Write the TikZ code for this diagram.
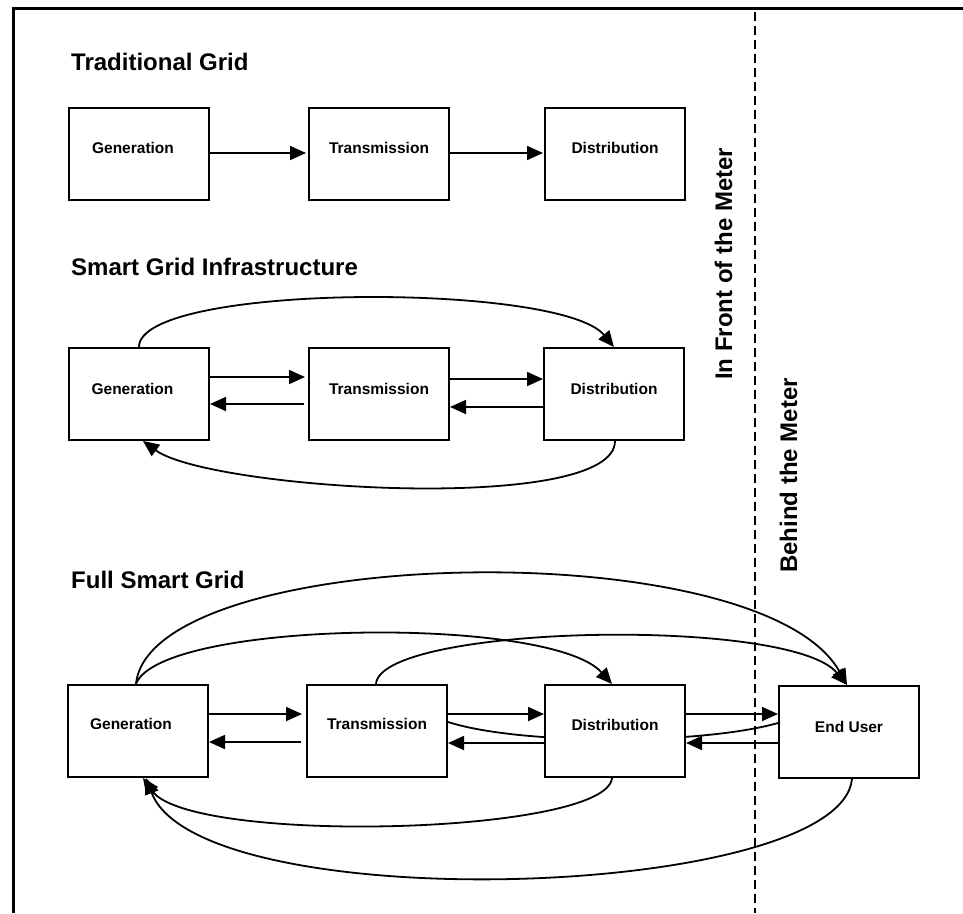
\documentclass[tikz,border=0pt]{standalone}
\usepackage{fontspec}
\setmainfont{Liberation Sans}
\usetikzlibrary{arrows.meta,backgrounds}

\begin{document}
\begin{tikzpicture}[x=1pt,y=-1pt,
  box/.style={draw, fill=white, line width=2pt, minimum width=140pt, minimum height=92pt, inner sep=0pt},
  boxtext/.style={font=\fontsize{15.5}{18}\selectfont\bfseries, inner sep=0pt},
  heading/.style={font=\fontsize{24}{28}\selectfont\bfseries, inner sep=0pt, anchor=base west},
  side/.style={heading, rotate=90},
  link/.style={line width=1.8pt},
  flow/.style={link, -{Triangle[length=16pt,width=14pt]}},
]
\useasboundingbox (0,0) rectangle (963,913);

% page frame and meter boundary
\draw[line width=2.7pt] (13.3,913) -- (13.3,8.7) -- (963,8.7);
\draw[line width=2pt, dash pattern=on 9pt off 5pt] (755,12) -- (755,913);

% headings
\node[heading] (h1) at (71,70) {Traditional Grid};
\node[heading] (h2) at (71,275.5) {Smart Grid Infrastructure};
\node[heading] (h3) at (71,588) {Full Smart Grid};
\node[side] (front) at (732,380) {In Front of the Meter};
\node[side] (behind) at (797,573) {Behind the Meter};

% traditional grid
\node[box, label={[boxtext, xshift=-6pt, yshift=6pt]center:Generation}] (g1) at (139,154) {};
\node[box, label={[boxtext, yshift=6pt]center:Transmission}] (t1) at (379,154) {};
\node[box, label={[boxtext, yshift=6pt]center:Distribution}] (d1) at (615,154) {};
\draw[flow, shorten >=2pt] ([yshift=1pt]g1.east) -- ([yshift=1pt]t1.west);
\draw[flow, shorten >=1pt] ([yshift=1pt]t1.east) -- ([yshift=1pt]d1.west);

% smart grid infrastructure
\node[box, label={[boxtext, xshift=-6.5pt, yshift=5.5pt]center:Generation}] (g2) at (139,394) {};
\node[box, label={[boxtext, yshift=5.5pt]center:Transmission}] (t2) at (379,394) {};
\node[box, label={[boxtext, yshift=5.5pt]center:Distribution}] (d2) at (614,394) {};
\draw[flow, shorten >=3pt] ([yshift=17pt]g2.east) -- ([yshift=17pt]t2.west);
\draw[flow, shorten <=4pt] ([yshift=-10pt]t2.west) -- ([yshift=-10pt]g2.east);
\draw[flow] ([yshift=15pt]t2.east) -- ([yshift=15pt]d2.west);
\draw[flow] ([yshift=-13pt]d2.west) -- ([yshift=-13pt]t2.east);
\begin{scope}[on background layer]
  \draw[flow] (g2.north) .. controls (139,283) and (560,282) .. (d2.north);
  \draw[flow] ([xshift=1pt]d2.south) .. controls (615,515) and (210,490) .. ([xshift=4pt]g2.south);
\end{scope}

% full smart grid
\node[box, label={[boxtext, xshift=-7pt, yshift=7pt]center:Generation}] (g3) at (138,731) {};
\node[box, label={[boxtext, yshift=7pt]center:Transmission}] (t3) at (377,731) {};
\node[box, label={[boxtext, yshift=6pt]center:Distribution}] (d3) at (615,731) {};
\node[box, label={[boxtext, yshift=5pt]center:End User}] (e3) at (849,732) {};
\draw[flow, shorten >=4pt] ([yshift=17pt]g3.east) -- ([yshift=17pt]t3.west);
\draw[flow, shorten <=5pt] ([yshift=-11pt]t3.west) -- ([yshift=-11pt]g3.east);
\draw[flow] ([yshift=17pt]t3.east) -- ([yshift=17pt]d3.west);
\draw[flow] ([yshift=-12pt]d3.west) -- ([yshift=-12pt]t3.east);
\draw[flow] ([yshift=17pt]d3.east) -- ([yshift=18pt]e3.west);
\draw[flow] ([yshift=-11pt]e3.west) -- ([yshift=-12pt]d3.east);
\begin{scope}[on background layer]
  \draw[flow] ([xshift=-2pt]g3.north) .. controls (150,545) and (760,530) .. ([xshift=-2pt]e3.north);
  \draw[flow] ([xshift=-2pt]g3.north) .. controls (160,620) and (550,615) .. ([xshift=-3pt]d3.north);
  \draw[flow] ([xshift=-1pt]t3.north) .. controls (380,625) and (790,616) .. ([xshift=-2pt]e3.north);
  \draw[link] ([yshift=9pt]e3.west) .. controls (700,745) and (520,745) .. ([yshift=9pt]t3.east);
  \draw[flow] ([xshift=-3pt]d3.south) .. controls (607,835) and (190,845) .. ([xshift=5pt]g3.south);
  \draw[flow] ([xshift=3pt]e3.south) .. controls (840,900) and (200,920) .. ([xshift=8pt]g3.south);
\end{scope}
\end{tikzpicture}
\end{document}
